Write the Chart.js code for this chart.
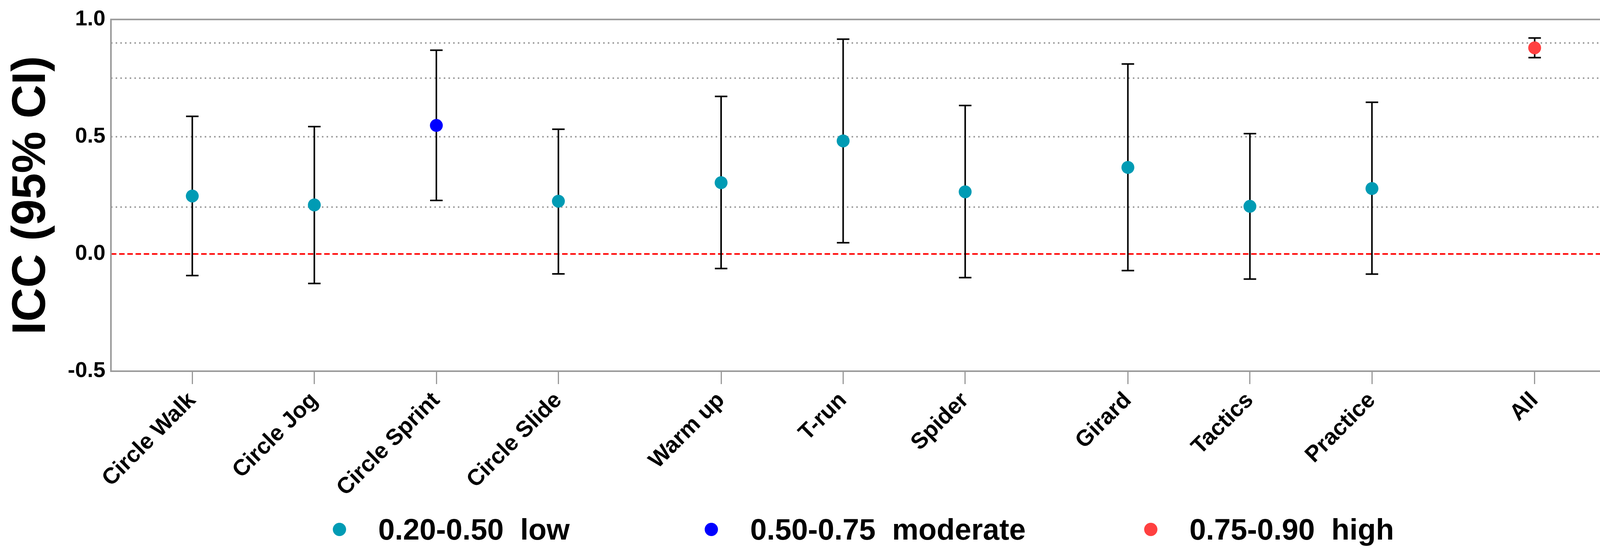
<!DOCTYPE html>
<html>
<head>
<meta charset="utf-8">
<script src="https://cdn.jsdelivr.net/npm/chart.js@4.4.1/dist/chart.umd.min.js"></script>
<style>
html,body{margin:0;padding:0;background:#ffffff;}
#wrap{position:relative;width:4285px;height:1423px;overflow:hidden;}
canvas{display:block;}
#legend{position:absolute;left:284px;width:3853px;top:1317px;height:76px;display:flex;justify-content:center;align-items:center;
  font-family:'Liberation Sans',Arial,sans-serif;font-weight:bold;font-size:76px;line-height:76px;color:#000;}
.item{display:flex;align-items:center;white-space:pre;}
.dot{display:inline-block;width:34px;height:34px;border-radius:50%;margin-right:82px;}
</style>
</head>
<body>
<div id="wrap">
<canvas id="c" width="4285" height="1423"></canvas>
<div id="legend"></div>
</div>
<script>
// ---- data ----
const categories = ['Circle Walk','Circle Jog','Circle Sprint','Circle Slide','Warm up','T-run','Spider','Girard','Tactics','Practice','All'];
const xPositions = [0,3,6,9,13,16,19,23,26,29,33];
const iccValues = [0.247,0.209,0.548,0.225,0.304,0.482,0.265,0.369,0.203,0.279,0.879];
const ciLower   = [-0.092,-0.126,0.228,-0.085,-0.062,0.048,-0.101,-0.071,-0.107,-0.086,0.837];
const ciUpper   = [0.587,0.543,0.869,0.532,0.672,0.916,0.633,0.810,0.513,0.647,0.921];
const levels    = ['low','low','moderate','low','low','low','low','low','low','low','high'];
const levelOrder = ['low','moderate','high'];
const levelLabels = {low:'0.20-0.50  low', moderate:'0.50-0.75  moderate', high:'0.75-0.90  high'};
const leftTicks  = [-0.5,0,0.5,1.0];
const rightTicks = [0.2,0.5,0.75,0.9];
const yTitle = 'ICC (95% CI)';

// ---- styles ----
const levelColors = {low:'#009bb4', moderate:'#0000ff', high:'#ff4040'};
const legendGaps = [0, 346, 303];
const FONT = 'Liberation Sans';
Chart.defaults.font.family = FONT;
Chart.defaults.color = '#000';

const pointSets = levelOrder.map(lv => ({
  type:'scatter',
  label: levelLabels[lv],
  data: xPositions.map((x,i)=>({x:x, y:iccValues[i]})).filter((p,i)=>levels[i]===lv),
  backgroundColor: levelColors[lv],
  borderColor: levelColors[lv],
  borderWidth: 0,
  pointRadius: 16.5,
  pointStyle: 'circle',
  pointBorderWidth: 0,
  order: 0
}));

const whiskerSet = {
  type:'line',
  label:'ci',
  data: xPositions.flatMap((x,i)=>[{x:x,y:ciLower[i]},{x:x,y:ciUpper[i]},{x:x,y:null}]),
  borderColor:'#000',
  borderWidth:4,
  pointRadius:0,
  showLine:true,
  spanGaps:false,
  fill:false,
  order: 2
};
const capSet = {
  type:'scatter',
  label:'caps',
  data: xPositions.flatMap((x,i)=>[{x:x,y:ciLower[i]},{x:x,y:ciUpper[i]}]),
  pointStyle:'line',
  pointRadius:16,
  pointBorderWidth:4,
  borderColor:'#000',
  backgroundColor:'#000',
  order: 1
};

const framePlugin = {
  id:'frame',
  afterDraw(chart){
    const {ctx, chartArea:a} = chart;
    ctx.save();
    ctx.strokeStyle = '#9a9a9a';
    ctx.lineWidth = 4;
    ctx.strokeRect(a.left, a.top, a.right-a.left, a.bottom-a.top);
    ctx.restore();
  }
};

const chart = new Chart(document.getElementById('c'), {
  type:'scatter',
  data:{ datasets:[...pointSets, whiskerSet, capSet] },
  plugins:[framePlugin],
  options:{
    responsive:false,
    devicePixelRatio:1,
    animation:false,
    events:[],
    layout:{ padding:{ top:35, bottom:0, left:0, right:0 } },
    scales:{
      x:{
        type:'linear', min:-2, max:35,
        afterBuildTicks: s => { s.ticks = xPositions.map(v=>({value:v})); },
        afterFit: s => { s.height = 473; },
        grid:{ drawOnChartArea:false, drawTicks:true, tickLength:33, tickColor:'#999', tickWidth:3, color:'#999' },
        border:{ display:false },
        ticks:{
          autoSkip:false, minRotation:45, maxRotation:45, padding:8, color:'#000',
          font:{ family:FONT, size:58, weight:'bold' },
          callback: v => { const i = xPositions.indexOf(v); return i>=0 ? categories[i] : ''; }
        }
      },
      y:{
        type:'linear', position:'left', min:-0.5, max:1.0,
        afterBuildTicks: s => { s.ticks = leftTicks.map(v=>({value:v})); },
        afterFit: s => { s.width = 284; },
        grid:{ drawTicks:false, lineWidth:4, color: c => (c.tick && c.tick.value === 0) ? '#ff0000' : 'rgba(0,0,0,0)' },
        border:{ display:false, dash:[14,7] },
        ticks:{ padding:14, color:'#000', font:{ family:FONT, size:56, weight:'bold' }, callback: v => v.toFixed(1) },
        title:{ display:true, text:yTitle, color:'#000', font:{ family:FONT, size:120, weight:'bold' }, padding:{ top:10, bottom:0 } }
      },
      y2:{
        axis:'y', display:true,
        type:'linear', position:'right', min:-0.5, max:1.0,
        afterBuildTicks: s => { s.ticks = rightTicks.map(v=>({value:v})); },
        afterFit: s => { s.width = 148; },
        grid:{ drawTicks:false, lineWidth:4, color:'#a0a0a0' },
        border:{ display:false, dash:[4,8] },
        ticks:{ padding:15, color:'#000', font:{ family:FONT, size:58, weight:'bold' }, callback: v => v.toFixed(2) }
      }
    },
    plugins:{
      tooltip:{ enabled:false },
      legend:{ display:false }
    }
  }
});

// HTML legend built from the point datasets
const legendEl = document.getElementById('legend');
pointSets.forEach((ds, k) => {
  const item = document.createElement('div');
  item.className = 'item';
  item.style.marginLeft = legendGaps[k] + 'px';
  const dot = document.createElement('span');
  dot.className = 'dot';
  dot.style.background = ds.backgroundColor;
  const txt = document.createElement('span');
  txt.textContent = ds.label;
  item.appendChild(dot);
  item.appendChild(txt);
  legendEl.appendChild(item);
});
</script>
</body>
</html>
